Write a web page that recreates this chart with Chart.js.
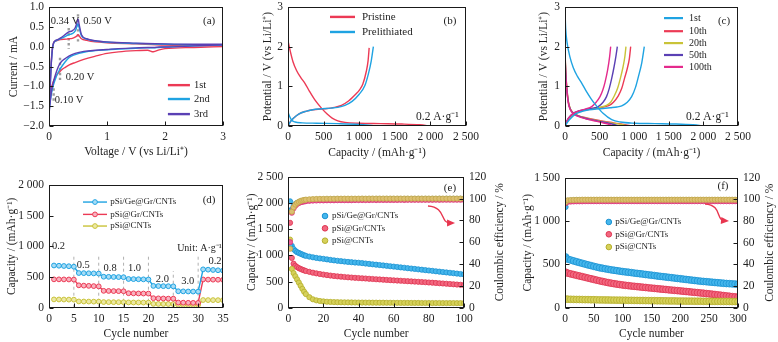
<!DOCTYPE html>
<html><head><meta charset="utf-8">
<script src="https://cdn.jsdelivr.net/npm/chart.js@4.4.0/dist/chart.umd.min.js"></script>
<style>
html,body{margin:0;padding:0;background:#fff;width:778px;height:342px;overflow:hidden}
canvas{position:absolute;left:0;top:0}
</style></head><body>
<canvas id="ca" width="778" height="342"></canvas>
<canvas id="cb" width="778" height="342"></canvas>
<canvas id="cc" width="778" height="342"></canvas>
<canvas id="cd" width="778" height="342"></canvas>
<canvas id="ce" width="778" height="342"></canvas>
<canvas id="cf" width="778" height="342"></canvas>
<script>
// ================= DATA =================
// (a) cyclic voltammetry
const cvLowV = [0, 0.02, 0.04, 0.07, 0.10, 0.14, 0.18, 0.22, 0.28, 0.35, 0.45, 0.6, 0.8, 1.0, 1.2, 1.5, 1.7, 1.8, 1.9, 2.0, 2.5, 3.0];
const cv1Low = [-1.5, -1.25, -1.05, -0.9, -0.8, -0.7, -0.64, -0.58, -0.52, -0.46, -0.4, -0.32, -0.24, -0.17, -0.13, -0.1, -0.09, -0.13, -0.08, -0.05, -0.02, 0.0];
const cv2Low = [-1.65, -1.4, -1.2, -1.0, -0.86, -0.7, -0.59, -0.5, -0.38, -0.27, -0.2, -0.14, -0.1, -0.08, -0.06, -0.04, -0.03, -0.03, -0.02, -0.01, 0.02, 0.04];
const cv3Low = [-1.7, -1.4, -1.15, -0.92, -0.76, -0.58, -0.45, -0.37, -0.3, -0.23, -0.17, -0.12, -0.09, -0.07, -0.05, -0.03, -0.02, -0.02, -0.01, -0.01, 0.02, 0.05];
const cvUpV = [0, 0.02, 0.04, 0.06, 0.08, 0.1, 0.15, 0.2, 0.3, 0.34, 0.4, 0.45, 0.48, 0.5, 0.52, 0.56, 0.65, 0.8, 1.0, 1.5, 2.0, 2.5, 3.0];
const cv1Up = [-1.5, -0.9, -0.35, -0.02, 0.1, 0.13, 0.16, 0.18, 0.19, 0.2, 0.21, 0.24, 0.27, 0.3, 0.27, 0.2, 0.16, 0.12, 0.1, 0.07, 0.04, 0.03, 0.02];
const cv2Up = [-1.65, -1.0, -0.4, -0.05, 0.09, 0.13, 0.17, 0.2, 0.27, 0.3, 0.33, 0.39, 0.5, 0.58, 0.48, 0.27, 0.19, 0.14, 0.11, 0.08, 0.06, 0.05, 0.05];
const cv3Up = [-1.7, -1.05, -0.42, -0.05, 0.1, 0.14, 0.18, 0.22, 0.33, 0.37, 0.4, 0.47, 0.6, 0.7, 0.56, 0.3, 0.2, 0.15, 0.12, 0.09, 0.07, 0.06, 0.06];
const aXTicks = [0, 1, 2, 3], aXLabels = ['0', '1', '2', '3'];
const aYTicks = [-2, -1.5, -1, -0.5, 0, 0.5, 1], aYLabels = ['\u22122.0', '\u22121.5', '\u22121.0', '\u22120.5', '0.0', '0.5', '1.0'];

// (b) pristine vs prelithiated
const priDisCap = [0, 30, 70, 120, 180, 240, 300, 380, 470, 550, 620, 700, 800, 1000, 1300, 1600, 1850, 2000];
const priDisV = [2.15, 1.9, 1.62, 1.4, 1.22, 1.07, 0.88, 0.65, 0.45, 0.3, 0.2, 0.13, 0.09, 0.07, 0.06, 0.05, 0.03, 0.0];
const priChgCap = [0, 30, 80, 150, 250, 350, 450, 550, 650, 750, 850, 950, 1000, 1050, 1100, 1125, 1140];
const priChgV = [0.0, 0.1, 0.2, 0.3, 0.37, 0.41, 0.43, 0.44, 0.47, 0.52, 0.63, 0.8, 0.9, 1.05, 1.38, 1.65, 1.97];
const preDisCap = [0, 20, 50, 100, 200, 400, 700, 1000, 1200];
const preDisV = [0.35, 0.25, 0.15, 0.1, 0.08, 0.07, 0.06, 0.04, 0.01];
const preChgCap = [0, 30, 80, 150, 250, 350, 450, 600, 700, 800, 900, 1000, 1080, 1130, 1170, 1199];
const preChgV = [0.0, 0.1, 0.2, 0.3, 0.37, 0.41, 0.43, 0.45, 0.47, 0.52, 0.62, 0.8, 1.02, 1.32, 1.65, 2.0];
const capTicks = [0, 500, 1000, 1500, 2000, 2500], capLabels = ['0', '500', '1 000', '1 500', '2 000', '2 500'];
const potTicks = [0, 1, 2, 3], potLabels = ['0', '1', '2', '3'];

// (c) selected cycles
const c1DisCap = [0, 10, 30, 70, 120, 180, 241, 300, 380, 458, 550, 675, 800, 1000, 1300, 1600, 1850, 2020];
const c1DisV = [2.9, 2.45, 2.1, 1.75, 1.47, 1.25, 1.08, 0.9, 0.68, 0.5, 0.32, 0.16, 0.1, 0.07, 0.06, 0.05, 0.03, 0.0];
const c1ChgCap = [0, 60, 150, 250, 350, 450, 550, 650, 750, 820, 900, 963, 1020, 1060, 1110, 1146];
const c1ChgV = [0.0, 0.15, 0.3, 0.37, 0.41, 0.43, 0.44, 0.46, 0.48, 0.51, 0.6, 0.74, 0.98, 1.24, 1.6, 2.0];
const c10DisCap = [0, 10, 25, 50, 80, 120, 180, 300, 400, 550, 700, 850, 960];
const c10DisV = [1.9, 1.4, 1.0, 0.6, 0.42, 0.33, 0.27, 0.21, 0.17, 0.12, 0.08, 0.04, 0.0];
const c10ChgCap = [0, 50, 120, 200, 300, 400, 500, 640, 700, 770, 820, 860, 900, 930, 949];
const c10ChgV = [0.02, 0.18, 0.3, 0.37, 0.41, 0.43, 0.46, 0.52, 0.6, 0.76, 0.95, 1.2, 1.45, 1.7, 2.0];
const c20DisCap = [0, 10, 25, 50, 80, 120, 180, 300, 400, 550, 700, 820, 900];
const c20DisV = [1.85, 1.38, 0.98, 0.6, 0.42, 0.33, 0.27, 0.2, 0.16, 0.11, 0.07, 0.04, 0.0];
const c20ChgCap = [0, 50, 120, 200, 300, 400, 500, 600, 660, 710, 760, 800, 840, 865, 881];
const c20ChgV = [0.02, 0.18, 0.3, 0.37, 0.41, 0.44, 0.47, 0.52, 0.6, 0.75, 0.95, 1.2, 1.5, 1.75, 2.0];
const c50DisCap = [0, 10, 25, 50, 80, 120, 180, 300, 400, 550, 680, 790];
const c50DisV = [1.8, 1.35, 0.95, 0.58, 0.41, 0.32, 0.26, 0.19, 0.15, 0.1, 0.05, 0.0];
const c50ChgCap = [0, 50, 120, 200, 300, 400, 480, 550, 600, 640, 675, 710, 735, 756];
const c50ChgV = [0.02, 0.2, 0.32, 0.38, 0.42, 0.45, 0.49, 0.6, 0.74, 0.95, 1.2, 1.5, 1.75, 2.0];
const c100DisCap = [0, 10, 25, 50, 80, 120, 180, 300, 400, 520, 620, 700];
const c100DisV = [1.75, 1.3, 0.92, 0.56, 0.4, 0.31, 0.25, 0.18, 0.14, 0.09, 0.05, 0.0];
const c100ChgCap = [0, 50, 120, 200, 300, 386, 450, 506, 545, 578, 615, 645, 660];
const c100ChgV = [0.02, 0.2, 0.32, 0.38, 0.43, 0.49, 0.6, 0.74, 0.9, 1.1, 1.4, 1.75, 2.0];

// (d) rate capability
const cycD = [1,2,3,4,5,6,7,8,9,10,11,12,13,14,15,16,17,18,19,20,21,22,23,24,25,26,27,28,29,30,31,32,33,34,35];
const rateGe = [688,684,680,676,668, 565,563,561,559,556, 505,503,501,499,497, 468,466,464,462,460, 355,353,351,350,348, 268,266,264,263,262, 625,620,615,610,605];
const rateGr = [462,462,461,460,458, 365,360,356,352,348, 275,273,271,270,268, 236,234,232,231,230, 155,152,150,148,147, 84,82,80,79,78, 460,458,457,456,455];
const rateCNT = [135,134,133,132,131, 102,101,100,99,99, 92,91,90,90,89, 86,85,85,84,84, 62,61,60,60,59, 48,47,47,46,46, 125,124,124,123,123];
const rateNames = ['0.2', '0.5', '0.8', '1.0', '2.0', '3.0', '0.2'];
const dXTicks = [0,5,10,15,20,25,30,35], dXLabels = ['0','5','10','15','20','25','30','35'];
const dYTicks = [0,500,1000,1500,2000], dYLabels = ['0','500','1 000','1 500','2 000'];

// (e) cycling at 0.2 A/g (100 cycles)
const cycE = [1,2,3,4,5,6,7,8,9,10,12,14,16,18,20,22,24,26,28,30,32,34,36,38,40,42,44,46,48,50,52,54,56,58,60,62,64,66,68,70,72,74,76,78,80,82,84,86,88,90,92,94,96,98,100];
const eCapGe = [2030,1180,1120,1085,1060,1045,1030,1015,1000,990, 975,962,950,940,932,922,912,903,895,888,881,874,868,862, 858,851,843,836,828,821,814,806,799,791,784,777,769,762,754,747,740,732,725,717,710,703,695,688,680,673,666,658,651,643,636];
const eCapGr = [1620,950,840,800,775,755,740,725,712,700, 684,668,655,643,632,622,613,605,598,592,586,580,575,570, 566,561,557,552,548,543,539,534,530,526,522,518,514,510,506,502,498,494,490,486,481,477,472,467,462,457,452,447,442,437,433];
const eCapCNT = [1300,740,660,600,540,480,420,360,305,260, 200,160,140,128,120,114,110,107,105,103,102,101,100,99, 98,98,97,97,96,96,95,95,94,94,93,93,92,92,92,91,91,91,90,90,90,89,89,89,88,88,88,88,87,87,87];
const eCEGe = [57,90,93,95,96,96.8,97.3,97.7,98,98.3, 98.6,98.8,98.9,99,99,99.1,99.1,99.2,99.2,99.2,99.3,99.3,99.3,99.3, 99.3,99.4,99.4,99.4,99.4,99.4,99.5,99.4,99.5,99.5,99.5,99.5,99.5,99.5,99.6,99.5,99.6,99.6,99.6,99.6,99.6,99.6,99.6,99.7,99.6,99.7,99.7,99.7,99.7,99.7,99.7];
const eCEGr = [60,87,91,93.5,95,96,96.6,97,97.3,97.6, 97.9,98.1,98.2,98.3,98.3,98.4,98.4,98.4,98.5,98.5,98.5,98.5,98.5,98.6, 98.6,98.6,98.6,98.6,98.7,98.6,98.7,98.7,98.7,98.7,98.7,98.7,98.8,98.7,98.8,98.8,98.8,98.8,98.8,98.8,98.8,98.8,98.9,98.8,98.9,98.9,98.9,98.9,98.9,98.9,98.9];
const eCECNT = [54,88,92,94.5,96,97,97.8,98.3,98.7,99, 99.3,99.5,99.6,99.7,99.7,99.8,99.8,99.8,99.9,99.9,99.9,99.9,99.9,99.9, 99.9,100,99.9,100,100,100,100,100,100,100,100,100,100,100,100,100,100,100,100,100,100,100,100,100,100,100,100,100,100,100,100];
const eXTicks = [0,20,40,60,80,100], eXLabels = ['0','20','40','60','80','100'];
const eYTicks = [0,500,1000,1500,2000,2500], eYLabels = ['0','500','1 000','1 500','2 000','2 500'];
const ceTicks = [0,20,40,60,80,100,120], ceLabels = ['0','20','40','60','80','100','120'];

// (f) long cycling (300 cycles)
const cycF = [1,5,10,15,20,25,30,35,40,45,50,55,60,65,70,75,80,85,90,95,100,105,110,115,120,125,130,135,140,145,150,155,160,165,170,175,180,185,190,195,200,205,210,215,220,225,230,235,240,245,250,255,260,265,270,275,280,285,290,295,300];
const fCapGe = [585,560,550,540,530,521,512,503,494,486,477,469,461,455,449,443,437,432,427,422,417,413,409,405,400,396,392,388,383,379,375,371,366,362,358,354,350,346,342,338,334,330,326,322,318,314,310,306,303,300,297,294,291,288,285,282,279,277,275,273,271];
const fCapGr = [410,398,390,382,374,366,358,350,342,334,326,318,310,303,296,289,283,277,272,267,262,258,254,250,247,243,240,236,233,229,226,223,219,216,213,210,206,203,200,197,194,190,187,184,180,177,174,170,167,163,160,156,152,148,144,140,136,132,128,125,122];
const fCapCNT = [100,98,97,96,95,95,94,93,93,92,92,91,90,90,89,89,88,88,87,87,86,86,85,85,84,84,83,83,82,82,81,81,80,80,79,79,78,78,78,77,77,77,76,76,76,75,75,75,74,74,74,73,73,73,72,72,72,72,71,71,71];
const fCEGe = [93,98.6,98.9,99,99.1,99.1,99.2,99.2,99.2,99.2,99.3,99.2,99.3,99.3,99.3,99.3,99.3,99.3,99.3,99.3,99.3,99.3,99.3,99.3,99.3,99.3,99.3,99.3,99.3,99.3,99.3,99.3,99.3,99.3,99.3,99.3,99.3,99.3,99.3,99.3,99.3,99.3,99.3,99.3,99.3,99.3,99.3,99.3,99.3,99.3,99.3,99.3,99.3,99.3,99.3,99.3,99.3,99.3,99.3,99.3,99.3];
const fCEGr = [96.5,97.8,98,98.1,98.2,98.2,98.2,98.3,98.3,98.3,98.3,98.3,98.3,98.3,98.3,98.3,98.3,98.3,98.3,98.3,98.3,98.3,98.3,98.3,98.3,98.3,98.3,98.3,98.3,98.3,98.3,98.3,98.3,98.3,98.3,98.3,98.3,98.3,98.3,98.3,98.3,98.3,98.3,98.3,98.3,98.3,98.3,98.3,98.3,98.3,98.3,98.3,98.3,98.3,98.3,98.3,98.3,98.3,98.3,98.3,98.3];
const fCECNT = [97.5,99.2,99.4,99.5,99.6,99.6,99.7,99.7,99.7,99.7,99.7,99.7,99.7,99.7,99.7,99.7,99.7,99.7,99.7,99.7,99.7,99.7,99.7,99.7,99.7,99.7,99.7,99.7,99.7,99.7,99.7,99.7,99.7,99.7,99.7,99.7,99.7,99.7,99.7,99.7,99.7,99.7,99.7,99.7,99.7,99.7,99.7,99.7,99.7,99.7,99.7,99.7,99.7,99.7,99.7,99.7,99.7,99.7,99.7,99.7,99.7];
const fXTicks = [0,50,100,150,200,250,300], fXLabels = ['0','50','100','150','200','250','300'];
const fYTicks = [0,500,1000,1500], fYLabels = ['0','500','1 000','1 500'];

const matNames = ['pSi/Ge@Gr/CNTs', 'pSi@Gr/CNTs', 'pSi@CNTs'];

// ================= STYLE / HELPERS =================
const F = "'Liberation Serif', 'Times New Roman', serif";
const TXT = '#1e1e1e';
const RED = '#ec3a55', BLUE = '#1fa3e2', PURP = '#5a40b4', YEL = '#c9c338', MAG = '#e42a8c';
const TICKFS = 11.5;

function xy(xs, ys) { return xs.map((x, i) => ({ x: x, y: ys[i] })); }

function axis(pos, min, max, vals, labels, size, pad) {
  return {
    type: 'linear', position: pos, min: min, max: max,
    grid: { display: false, drawTicks: false }, border: { display: false },
    ticks: { padding: pad, color: TXT, font: { family: F, size: TICKFS }, autoSkip: false, maxRotation: 0, minRotation: 0,
      callback: v => { const i = vals.indexOf(v); return i < 0 ? '' : labels[i]; } },
    afterBuildTicks: s => { s.ticks = vals.map(v => ({ value: v })); },
    afterFit: s => { if (pos === 'bottom') s.height = size; else s.width = size; s.paddingTop = 0; s.paddingBottom = 0; s.paddingLeft = 0; s.paddingRight = 0; }
  };
}
function lineDS(xs, ys, color, w) {
  return { data: xy(xs, ys), showLine: true, borderColor: color, borderWidth: w || 1.4, pointRadius: 0, cubicInterpolationMode: 'monotone', fill: false };
}
function ptDS(xs, ys, fill, border, r, axisId) {
  return { data: xy(xs, ys), showLine: false, pointRadius: r, pointBackgroundColor: fill, pointBorderColor: border, pointBorderWidth: 0.8, yAxisID: axisId || 'y' };
}

const decoPlugin = {
  id: 'deco',
  beforeDatasetsDraw(chart, args, o) {
    const ctx = chart.ctx, sx = chart.scales.x, sy = chart.scales.y;
    ctx.save();
    (o.vlines || []).forEach(l => {
      ctx.strokeStyle = l.color; ctx.lineWidth = l.width; ctx.setLineDash(l.dash);
      const px = sx.getPixelForValue(l.x);
      ctx.beginPath(); ctx.moveTo(px, sy.getPixelForValue(l.y1)); ctx.lineTo(px, sy.getPixelForValue(l.y2)); ctx.stroke();
    });
    ctx.restore();
  },
  afterDraw(chart, args, o) {
    const ctx = chart.ctx, ca = chart.chartArea, sx = chart.scales.x, sy = chart.scales.y, s2 = chart.scales.y2;
    const X = v => sx.getPixelForValue(v), Y = v => sy.getPixelForValue(v);
    ctx.save();
    ctx.setLineDash([]);
    ctx.strokeStyle = '#1a1a1a'; ctx.lineWidth = 1;
    const L = Math.round(ca.left) + 0.5, R = Math.round(ca.right) - 0.5, T = Math.round(ca.top) + 0.5, B = Math.round(ca.bottom) - 0.5;
    ctx.strokeRect(L, T, R - L, B - T);
    ctx.beginPath();
    sx.ticks.forEach(t => { const p = Math.round(X(t.value)) + 0.5; ctx.moveTo(p, B); ctx.lineTo(p, B - 4); });
    sy.ticks.forEach(t => { const p = Math.round(Y(t.value)) + 0.5; ctx.moveTo(L, p); ctx.lineTo(L + 4, p); });
    if (s2) s2.ticks.forEach(t => { const p = Math.round(s2.getPixelForValue(t.value)) + 0.5; ctx.moveTo(R, p); ctx.lineTo(R - 4, p); });
    ctx.stroke();

    const txt = (t, x, y, align, size, rot) => {
      ctx.save(); ctx.fillStyle = TXT; ctx.font = size + 'px ' + F; ctx.textAlign = align; ctx.textBaseline = 'middle';
      ctx.translate(x, y); if (rot) ctx.rotate(rot); ctx.fillText(t, 0, 0); ctx.restore();
    };
    // arrow
    if (o.arrow) {
      const a = o.arrow.pts, p = [X(a[0]), Y(a[1]), X(a[2]), Y(a[3]), X(a[4]), Y(a[5]), X(a[6]), Y(a[7])];
      const ang = Math.atan2(p[7] - p[5], p[6] - p[4]);
      ctx.strokeStyle = o.arrow.color; ctx.fillStyle = o.arrow.color; ctx.lineWidth = 1.4;
      ctx.beginPath(); ctx.moveTo(p[0], p[1]);
      ctx.bezierCurveTo(p[2], p[3], p[4], p[5], p[6] - 5 * Math.cos(ang), p[7] - 5 * Math.sin(ang)); ctx.stroke();
      ctx.beginPath(); ctx.moveTo(p[6], p[7]);
      ctx.lineTo(p[6] - 8 * Math.cos(ang) + 3.5 * Math.sin(ang), p[7] - 8 * Math.sin(ang) - 3.5 * Math.cos(ang));
      ctx.lineTo(p[6] - 8 * Math.cos(ang) - 3.5 * Math.sin(ang), p[7] - 8 * Math.sin(ang) + 3.5 * Math.cos(ang));
      ctx.closePath(); ctx.fill();
    }
    // legend
    (o.legend || []).forEach(it => {
      const y = Y(it.y);
      if (it.x2 !== undefined) { ctx.strokeStyle = it.color; ctx.lineWidth = it.lw; ctx.beginPath(); ctx.moveTo(X(it.x1), y); ctx.lineTo(X(it.x2), y); ctx.stroke(); }
      if (it.px !== undefined) { ctx.fillStyle = it.fill; ctx.strokeStyle = it.color; ctx.lineWidth = 1; ctx.beginPath(); ctx.arc(X(it.px), y, it.r, 0, 2 * Math.PI); ctx.fill(); ctx.stroke(); }
      txt(it.label, X(it.tx), y, 'left', it.size);
    });
    // free texts
    (o.texts || []).forEach(t => txt(t.t, X(t.x), Y(t.y), t.align || 'center', t.size || 10.5));
    // axis titles
    const tt = o.titles || {};
    const cx = (ca.left + ca.right) / 2, cy = (ca.top + ca.bottom) / 2;
    if (tt.x) txt(tt.x, cx, ca.bottom + tt.xdy, 'center', 11.5);
    if (tt.y) txt(tt.y, ca.left + tt.ydx, cy, 'center', 11.5, -Math.PI / 2);
    if (tt.y2) txt(tt.y2, ca.right + tt.y2dx, cy, 'center', 11.5, -Math.PI / 2);
    ctx.restore();
  }
};

function makeChart(id, pad, scales, datasets, deco) {
  return new Chart(document.getElementById(id), {
    type: 'scatter',
    data: { datasets: datasets },
    options: {
      responsive: false, animation: false, events: [],
      layout: { padding: pad },
      scales: scales,
      plugins: { legend: { display: false }, tooltip: { enabled: false }, deco: deco }
    },
    plugins: [decoPlugin]
  });
}

const CAPT = 'Capacity / (mAh\u00b7g\u207b\u00b9)';
const POTT = 'Potential / V (vs Li/Li\u207a)';
const RATE = '0.2 A\u00b7g\u207b\u00b9';

// ================= (a) =================
makeChart('ca', { left: 9, right: 555, top: 7, bottom: 186 },
  { x: axis('bottom', 0, 3, aXTicks, aXLabels, 30, 4), y: axis('left', -2, 1, aYTicks, aYLabels, 40, 5) },
  [
    lineDS(cvUpV, cv3Up, PURP), lineDS(cvLowV, cv3Low, PURP),
    lineDS(cvUpV, cv2Up, BLUE), lineDS(cvLowV, cv2Low, BLUE),
    lineDS(cvUpV, cv1Up, RED), lineDS(cvLowV, cv1Low, RED)
  ],
  {
    vlines: [
      { x: 0.34, y1: 0.47, y2: -0.05, color: '#9d9d9d', width: 2.4, dash: [2.4, 2.6] },
      { x: 0.50, y1: 0.82, y2: 0.12, color: '#9d9d9d', width: 2.4, dash: [2.4, 2.6] },
      { x: 0.19, y1: -0.28, y2: -0.84, color: '#9d9d9d', width: 2.4, dash: [2.4, 2.6] },
      { x: 0.08, y1: -1.05, y2: -1.38, color: '#9d9d9d', width: 2.4, dash: [2.4, 2.6] }
    ],
    texts: [
      { t: '0.34 V', x: 0.03, y: 0.65, align: 'left' }, { t: '0.50 V', x: 0.59, y: 0.65, align: 'left' },
      { t: '0.20 V', x: 0.29, y: -0.76, align: 'left' }, { t: '0.10 V', x: 0.10, y: -1.34, align: 'left' },
      { t: '(a)', x: 2.76, y: 0.65, size: 11 }
    ],
    legend: [
      { x1: 2.05, x2: 2.43, tx: 2.5, y: -0.97, color: RED, lw: 2.4, label: '1st', size: 10.5 },
      { x1: 2.05, x2: 2.43, tx: 2.5, y: -1.32, color: BLUE, lw: 2.4, label: '2nd', size: 10.5 },
      { x1: 2.05, x2: 2.43, tx: 2.5, y: -1.70, color: PURP, lw: 2.4, label: '3rd', size: 10.5 }
    ],
    titles: { x: 'Voltage / V (vs Li/Li\u207a)', xdy: 26, y: 'Current / mA', ydx: -35 }
  });

// ================= (b) =================
makeChart('cb', { left: 248, right: 312, top: 7, bottom: 186 },
  { x: axis('bottom', 0, 2500, capTicks, capLabels, 30, 4), y: axis('left', 0, 3, potTicks, potLabels, 40, 5) },
  [
    lineDS(preDisCap, preDisV, BLUE), lineDS(preChgCap, preChgV, BLUE),
    lineDS(priDisCap, priDisV, RED), lineDS(priChgCap, priChgV, RED)
  ],
  {
    texts: [{ t: '(b)', x: 2275, y: 2.65, size: 11 }, { t: RATE, x: 1798, y: 0.23, align: 'left', size: 11.5 }],
    legend: [
      { x1: 590, x2: 941, tx: 1039, y: 2.75, color: RED, lw: 2.4, label: 'Pristine', size: 11 },
      { x1: 590, x2: 941, tx: 1039, y: 2.37, color: BLUE, lw: 2.4, label: 'Prelithiated', size: 11 }
    ],
    titles: { x: CAPT, xdy: 27, y: POTT, ydx: -20 }
  });

// ================= (c) =================
makeChart('cc', { left: 525, right: 40, top: 7, bottom: 186 },
  { x: axis('bottom', 0, 2500, capTicks, capLabels, 30, 4), y: axis('left', 0, 3, potTicks, potLabels, 40, 5) },
  [
    lineDS(c1DisCap, c1DisV, BLUE), lineDS(c1ChgCap, c1ChgV, BLUE),
    lineDS(c100DisCap, c100DisV, MAG), lineDS(c100ChgCap, c100ChgV, MAG),
    lineDS(c50DisCap, c50DisV, PURP), lineDS(c50ChgCap, c50ChgV, PURP),
    lineDS(c20DisCap, c20DisV, YEL), lineDS(c20ChgCap, c20ChgV, YEL),
    lineDS(c10DisCap, c10DisV, RED), lineDS(c10ChgCap, c10ChgV, RED)
  ],
  {
    texts: [{ t: '(c)', x: 2298, y: 2.65, size: 11 }, { t: RATE, x: 1749, y: 0.23, align: 'left', size: 11.5 }],
    legend: [
      { x1: 1431, x2: 1705, tx: 1792, y: 2.72, color: BLUE, lw: 2.2, label: '1st', size: 10 },
      { x1: 1431, x2: 1705, tx: 1792, y: 2.39, color: RED, lw: 2.2, label: '10th', size: 10 },
      { x1: 1431, x2: 1705, tx: 1792, y: 2.09, color: YEL, lw: 2.2, label: '20th', size: 10 },
      { x1: 1431, x2: 1705, tx: 1792, y: 1.79, color: PURP, lw: 2.2, label: '50th', size: 10 },
      { x1: 1431, x2: 1705, tx: 1792, y: 1.49, color: MAG, lw: 2.2, label: '100th', size: 10 }
    ],
    titles: { x: CAPT, xdy: 27, y: POTT, ydx: -21 }
  });

// ================= (d) =================
function rateDS(ys, color, light) {
  return { data: xy(cycD, ys), showLine: true, borderColor: color, borderWidth: 1.4, tension: 0,
    pointRadius: 2.4, pointBackgroundColor: light, pointBorderColor: color, pointBorderWidth: 1 };
}
makeChart('cd', { left: 9, right: 555, top: 185, bottom: 4.3 },
  { x: axis('bottom', 0, 35, dXTicks, dXLabels, 30, 4), y: axis('left', 0, 2000, dYTicks, dYLabels, 40, 5) },
  [ rateDS(rateGe, BLUE, '#a8dcf5'), rateDS(rateGr, RED, '#f7b3bf'), rateDS(rateCNT, YEL, '#ece8a6') ],
  {
    vlines: [5, 10, 15, 20, 30].map(x => ({ x: x, y1: 0, y2: 850, color: '#b0b0b0', width: 1, dash: [3, 3] }))
      .concat([{ x: 25, y1: 0, y2: 600, color: '#b0b0b0', width: 1, dash: [3, 3] }]),
    texts: [
      { t: rateNames[0], x: 1.9, y: 1000 }, { t: rateNames[1], x: 6.9, y: 700 }, { t: rateNames[2], x: 12.3, y: 635 },
      { t: rateNames[3], x: 17.2, y: 650 }, { t: rateNames[4], x: 22.8, y: 465 }, { t: rateNames[5], x: 27.9, y: 425 },
      { t: rateNames[6], x: 33.4, y: 750 },
      { t: 'Unit: A\u00b7g\u207b\u00b9', x: 34.75, y: 960, align: 'right', size: 10 },
      { t: '(d)', x: 32.2, y: 1754, size: 11 }
    ],
    legend: [
      { x1: 6.84, x2: 11.67, px: 9.25, r: 2.4, fill: '#a8dcf5', tx: 12.3, y: 1722, color: BLUE, lw: 1.4, label: matNames[0], size: 9 },
      { x1: 6.84, x2: 11.67, px: 9.25, r: 2.4, fill: '#f7b3bf', tx: 12.3, y: 1521, color: RED, lw: 1.4, label: matNames[1], size: 9 },
      { x1: 6.84, x2: 11.67, px: 9.25, r: 2.4, fill: '#ece8a6', tx: 12.3, y: 1331, color: YEL, lw: 1.4, label: matNames[2], size: 9 }
    ],
    titles: { x: 'Cycle number', xdy: 26, y: CAPT, ydx: -37 }
  });

// ================= (e) =================
const BF = '#45b6ec', BB = '#1a92d2', RF = '#f2677f', RB = '#de3450', YF = '#d6d15a', YB = '#b5ae2c';
const PF = '#ef5f96', PB = '#db3577', TF = '#dcc070', TB = '#c4a748';
makeChart('ce', { left: 248.3, right: 284, top: 176.7, bottom: 4.3 },
  {
    x: axis('bottom', 0, 100, eXTicks, eXLabels, 30, 4),
    y: axis('left', 0, 2500, eYTicks, eYLabels, 40, 5),
    y2: axis('right', 0, 120, ceTicks, ceLabels, 30, 5)
  },
  [
    ptDS(cycE, eCECNT, TF, TB, 2.6, 'y2'), ptDS(cycE, eCEGr, PF, PB, 2.6, 'y2'), ptDS(cycE, eCEGe, BF, BB, 2.6, 'y2'),
    ptDS(cycE, eCapCNT, YF, YB, 2.6), ptDS(cycE, eCapGr, RF, RB, 2.6), ptDS(cycE, eCapGe, BF, BB, 2.6)
  ],
  {
    arrow: { pts: [79.5, 1941, 89.8, 1922, 86.3, 1616, 94.9, 1616], color: '#e8364f' },
    texts: [{ t: '(e)', x: 92, y: 2284, size: 11 }],
    legend: [
      { px: 20.9, r: 2.8, fill: BF, color: BB, tx: 24.9, y: 1750, label: matNames[0], size: 9 },
      { px: 20.9, r: 2.8, fill: RF, color: RB, tx: 24.9, y: 1515, label: matNames[1], size: 9 },
      { px: 20.9, r: 2.8, fill: YF, color: YB, tx: 24.9, y: 1279, label: matNames[2], size: 9 }
    ],
    titles: { x: 'Cycle number', xdy: 26, y: CAPT, ydx: -36, y2: 'Coulombic efficiency / %', y2dx: 36 }
  });

// ================= (f) =================
makeChart('cf', { left: 525, right: 10, top: 177.7, bottom: 4.3 },
  {
    x: axis('bottom', 0, 300, fXTicks, fXLabels, 30, 4),
    y: axis('left', 0, 1500, fYTicks, fYLabels, 40, 5),
    y2: axis('right', 0, 120, ceTicks, ceLabels, 30, 5)
  },
  [
    ptDS(cycF, fCECNT, TF, TB, 2.6, 'y2'), ptDS(cycF, fCEGr, PF, PB, 2.6, 'y2'), ptDS(cycF, fCEGe, BF, BB, 2.6, 'y2'),
    ptDS(cycF, fCapCNT, YF, YB, 3.4), ptDS(cycF, fCapGr, RF, RB, 3.4), ptDS(cycF, fCapGe, BF, BB, 3.4)
  ],
  {
    arrow: { pts: [242.8, 1196, 272.3, 1185, 261.8, 1012, 284.4, 1000], color: '#e8364f' },
    texts: [{ t: '(f)', x: 274, y: 1404, size: 11 }],
    legend: [
      { px: 76, r: 2.8, fill: BF, color: BB, tx: 87, y: 989, label: matNames[0], size: 9 },
      { px: 76, r: 2.8, fill: RF, color: RB, tx: 87, y: 847, label: matNames[1], size: 9 },
      { px: 76, r: 2.8, fill: YF, color: YB, tx: 87, y: 700, label: matNames[2], size: 9 }
    ],
    titles: { x: 'Cycle number', xdy: 26, y: CAPT, ydx: -37, y2: 'Coulombic efficiency / %', y2dx: 32 }
  });
</script>
</body></html>
